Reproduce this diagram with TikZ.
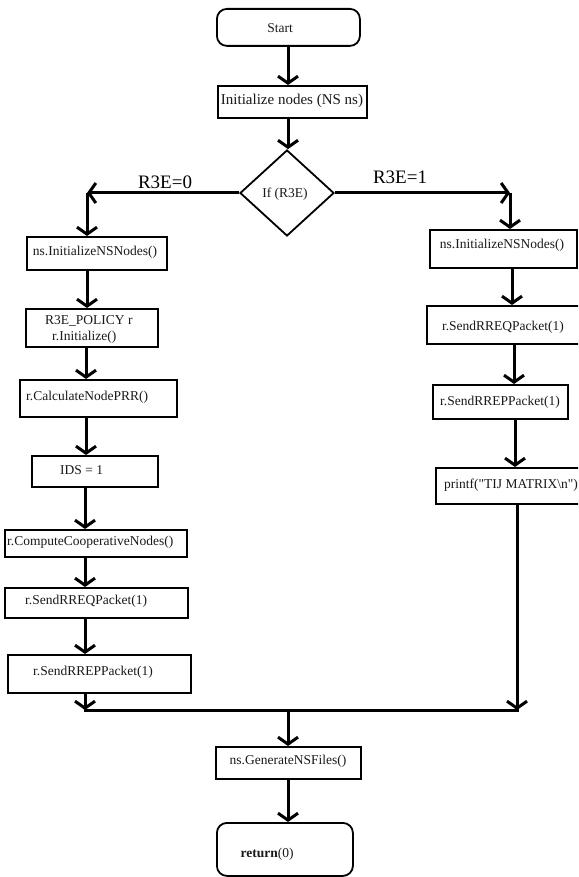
\documentclass[tikz,border=0pt]{standalone}
\usepackage{fontspec}
\setmainfont{Liberation Serif}
% same face without the TeX quote mapping, for straight double quotes
\newfontfamily\rawserif{Liberation Serif}[Ligatures=TeXOff]
\usetikzlibrary{arrows.meta,shapes.geometric}
\begin{document}
\begin{tikzpicture}[x=1pt,y=-1pt,
  box/.style={draw, line width=1.8pt, rectangle, inner sep=0pt, anchor=north west},
  term/.style={box, rounded corners=10pt},
  txt/.style={inner sep=0pt, font=\fontsize{13.5}{15}\selectfont, text=black!90},
  lbl/.style={inner sep=0pt, font=\fontsize{19}{21}\selectfont},
  arr/.style={line width=3pt, -{Straight Barb[length=7pt,width=20pt]}},
  ln/.style={line width=3pt}]
\clip (0,0) rectangle (578,877);
\fill[white] (0,0) rectangle (578,877);

% main column
\node[term, minimum width=143pt, minimum height=37pt] (start) at (216,8) {};
\node[txt] (start-t) at (280,28) {Start};
\node[box, minimum width=149pt, minimum height=32pt] (init) at (217,85) {};
\node[txt, font=\fontsize{15}{17}\selectfont] (init-t) at (292,101) {Initialize nodes (NS ns)};
\node[draw, diamond, line width=1.8pt, minimum width=94pt, minimum height=86pt, inner sep=0pt] (dec) at (287,193) {};
\node[txt] (dec-t) at (285,194) {If (R3E)};

% left branch (R3E = 0)
\node[box, minimum width=140pt, minimum height=33pt] (l1) at (26,236) {};
\node[txt] (l1-t) at (95,252) {ns.InitializeNSNodes()};
\node[box, minimum width=132pt, minimum height=38pt] (l2) at (25,308) {};
\node[txt, anchor=west] (l2-t1) at (45,321) {R3E\_POLICY r};
\node[txt, anchor=west] (l2-t2) at (52,337) {r.Initialize()};
\node[box, minimum width=157pt, minimum height=37pt] (l3) at (19,379) {};
\node[txt, anchor=west] (l3-t) at (26,397) {r.CalculateNodePRR()};
\node[box, minimum width=126pt, minimum height=31pt] (l4) at (31,455) {};
\node[txt, anchor=west] (l4-t) at (60,470) {IDS = 1};
\node[box, minimum width=182pt, minimum height=27pt] (l5) at (4,529) {};
\node[txt, anchor=west] (l5-t) at (7,542) {r.ComputeCooperativeNodes()};
\node[box, minimum width=183pt, minimum height=30pt] (l6) at (4,587) {};
\node[txt, anchor=west] (l6-t) at (25,601) {r.SendRREQPacket(1)};
\node[box, minimum width=183pt, minimum height=38pt] (l7) at (7,654) {};
\node[txt, anchor=west] (l7-t) at (33,672) {r.SendRREPPacket(1)};

% right branch (R3E = 1)
\node[box, minimum width=147pt, minimum height=38pt] (r1) at (429,229) {};
\node[txt] (r1-t) at (502,245) {ns.InitializeNSNodes()};
\node[box, minimum width=160pt, minimum height=38pt] (r2) at (426,305) {};
\node[txt] (r2-t) at (503,327) {r.SendRREQPacket(1)};
\node[box, minimum width=135pt, minimum height=34pt] (r3) at (432,384) {};
\node[txt] (r3-t) at (500,402) {r.SendRREPPacket(1)};
\node[box, minimum width=160pt, minimum height=36pt] (r4) at (435,467) {};
\node[txt, anchor=west] (r4-t) at (444,485) {\rawserif printf("TIJ MATRIX\textbackslash n")};

% closing part
\node[box, minimum width=145pt, minimum height=32pt] (gen) at (215,746) {};
\node[txt] (gen-t) at (288,761) {ns.GenerateNSFiles()};
\node[term, minimum width=136pt, minimum height=53pt] (ret) at (216,822) {};
\node[txt] (ret-t) at (267,854) {\textbf{return}(0)};

% branch labels
\node[lbl] (lab0) at (165,182) {R3E=0};
\node[lbl] (lab1) at (400,177) {R3E=1};

% bend and merge points
\coordinate (cL) at (87,193);
\coordinate (cR) at (510,193);
\coordinate (mL) at (85,710);
\coordinate (mC) at (288,710);
\coordinate (mR) at (517,710);

% connectors
\draw[arr] (start.south -| mC) -- (init.north -| mC);
\draw[arr] (init.south -| mC) -- (dec.north -| mC);
\draw[arr] (dec.west) -- (cL);
\draw[arr] (cL) -- (l1.north -| cL);
\draw[arr] (l1.south -| cL) -- (l2.north -| cL);
\draw[arr] ([xshift=-1pt]l2.south -| cL) -- ([xshift=-1pt]l3.north -| cL);
\draw[arr] ([xshift=-1pt]l3.south -| cL) -- ([xshift=-1pt]l4.north -| cL);
\draw[arr] (l4.south -| mL) -- (l5.north -| mL);
\draw[arr] (l5.south -| mL) -- (l6.north -| mL);
\draw[arr] (l6.south -| mL) -- (l7.north -| mL);
\draw[arr] (l7.south -| mL) -- (mL);
\draw[arr] (dec.east) -- (cR);
\draw[arr] (cR) -- (r1.north -| cR);
\draw[arr] ([xshift=2pt]r1.south -| cR) -- ([xshift=2pt]r2.north -| cR);
\draw[arr] ([xshift=4pt]r2.south -| cR) -- ([xshift=4pt]r3.north -| cR);
\draw[arr] ([xshift=5pt]r3.south -| cR) -- ([xshift=5pt]r4.north -| cR);
\draw[arr] (r4.south -| mR) -- (mR);
\draw[ln] ([xshift=-1.5pt]mL) -- ([xshift=1.5pt]mR);
\draw[arr] (mC) -- (gen.north -| mC);
\draw[arr] (gen.south -| mC) -- (ret.north -| mC);
\end{tikzpicture}
\end{document}
